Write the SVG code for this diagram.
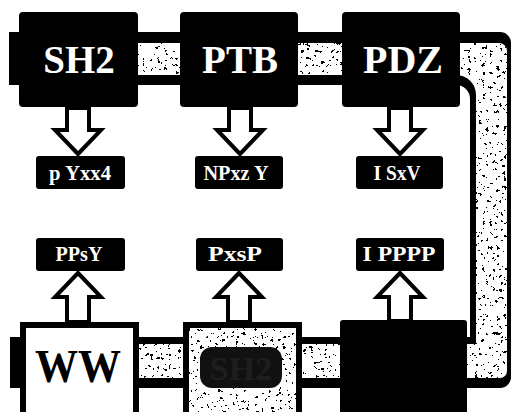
<svg xmlns="http://www.w3.org/2000/svg" width="511" height="412" viewBox="0 0 511 412">
<style>
.box{fill:#000}
.big{font-family:'Liberation Serif','Times New Roman',serif;font-weight:bold;fill:#fff;text-anchor:middle}
.lab{fill:#000}
.lt{font-family:'Liberation Serif','Times New Roman',serif;font-weight:bold;font-size:20px;fill:#fff;text-anchor:middle}
.arr{fill:#fff;stroke:#000;stroke-width:4;stroke-linejoin:miter}
</style>
<defs>
<filter id="speck" x="0" y="0" width="100%" height="100%">
<feTurbulence type="fractalNoise" baseFrequency="0.28" numOctaves="4" seed="11" result="t"/>
<feColorMatrix in="t" type="matrix" values="0 0 0 0 0  0 0 0 0 0  0 0 0 0 0  3 0 0 0 -1.55" result="a"/>
<feComponentTransfer in="a" result="b"><feFuncA type="discrete" tableValues="0 1"/></feComponentTransfer>
<feComposite in="b" in2="SourceGraphic" operator="in"/>
</filter>
</defs>
<rect width="511" height="412" fill="#fff"/>
<g id="connectors">
<path d="M9,32 H500 A11,11 0 0 1 511,43 V377 A11,11 0 0 1 500,388 H10 V337 H470 V99 A14,14 0 0 0 456,85 H9 Z" fill="#000"/>
<path d="M138,43 H498 A8,8 0 0 1 507,51 V371 A7,7 0 0 1 500,378 H20 V344 H476 V95 A20,20 0 0 0 456,75 H138 Z" fill="#fff"/>
<path d="M138,43 H498 A8,8 0 0 1 507,51 V371 A7,7 0 0 1 500,378 H20 V344 H476 V95 A20,20 0 0 0 456,75 H138 Z" fill="#000" filter="url(#speck)"/>
<polygon class="arr" points="67,108 89,108 89,130 101,130 78,154 55,130 67,130"/>
<polygon class="arr" points="229,108 251,108 251,130 263,130 240,154 217,130 229,130"/>
<polygon class="arr" points="389,108 411,108 411,130 423,130 400,154 377,130 389,130"/>
<polygon class="arr" points="78,273 101,297 89,297 89,322 67,322 67,297 55,297"/>
<polygon class="arr" points="239,273 262,297 250,297 250,322 228,322 228,297 216,297"/>
<polygon class="arr" points="400,273 423,297 411,297 411,321 389,321 389,297 377,297"/>
</g>
<g id="node-sh2"><rect class="box" x="19" y="12" width="119" height="95" rx="4"/><text class="big" x="79" y="73" font-size="39" font-family="Liberation Serif, serif">SH2</text></g>
<g id="node-ptb"><rect class="box" x="180" y="12" width="118" height="95" rx="4"/><text class="big" x="240" y="73" font-size="39" font-family="Liberation Serif, serif">PTB</text></g>
<g id="node-pdz"><rect class="box" x="342" y="12" width="118" height="95" rx="4"/><text class="big" x="403" y="73" font-size="40" font-family="Liberation Serif, serif">PDZ</text></g>
<g id="label-1"><rect class="lab" x="36" y="156" width="89" height="33" rx="3"/><text class="lt" x="80" y="180" textLength="62" lengthAdjust="spacingAndGlyphs">p Yxx4</text></g>
<g id="label-2"><rect class="lab" x="195" y="156" width="88" height="33" rx="3"/><text class="lt" x="236" y="180" textLength="65" lengthAdjust="spacingAndGlyphs">NPxz Y</text></g>
<g id="label-3"><rect class="lab" x="356" y="156" width="87" height="33" rx="3"/><text class="lt" x="397" y="180" textLength="47" lengthAdjust="spacingAndGlyphs">I SxV</text></g>
<g id="label-4"><rect class="lab" x="36" y="238" width="89" height="33" rx="3"/><text class="lt" x="79" y="261" textLength="47" lengthAdjust="spacingAndGlyphs">PPsY</text></g>
<g id="label-5"><rect class="lab" x="196" y="238" width="87" height="33" rx="3"/><text class="lt" x="235" y="261" textLength="54" lengthAdjust="spacingAndGlyphs">PxsP</text></g>
<g id="label-6"><rect class="lab" x="356" y="238" width="88" height="33" rx="3"/><text class="lt" x="399" y="261" textLength="73" lengthAdjust="spacingAndGlyphs">I PPPP</text></g>
<g id="node-ww"><rect x="23" y="325" width="113" height="95" fill="#fff" stroke="#000" stroke-width="6"/><text x="78" y="382" font-family="Liberation Serif, serif" font-weight="bold" font-size="46" fill="#000" text-anchor="middle" textLength="86" lengthAdjust="spacingAndGlyphs">WW</text></g>
<g id="node-sh3"><rect x="186" y="325" width="113" height="95" fill="#fff" stroke="#000" stroke-width="6"/><rect x="189" y="328" width="107" height="90" fill="#000" filter="url(#speck)"/><rect x="200" y="347" width="82" height="41" rx="12" fill="#111"/><text x="241" y="380" font-family="Liberation Serif, serif" font-weight="bold" font-size="34" fill="#1e1e1e" text-anchor="middle">SH2</text></g>
<g id="node-black"><rect class="box" x="340" y="320" width="127" height="95" rx="3"/></g>
</svg>
